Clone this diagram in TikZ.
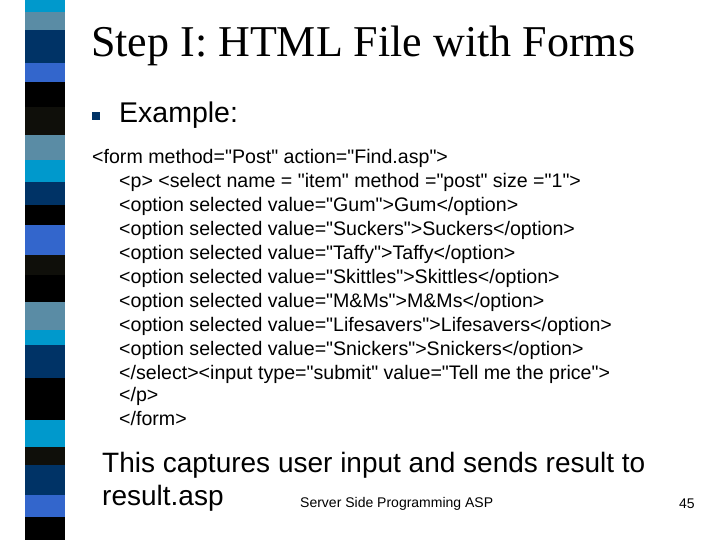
\documentclass[tikz,border=0pt]{standalone}
\usepackage{fontspec}
\setmainfont{Liberation Sans}[Ligatures=TeXOff]
\newfontfamily\serif{Liberation Serif}
\newcommand\Q{\symbol{34}}
\definecolor{cy}{RGB}{0,153,204}
\definecolor{gb}{RGB}{90,140,165}
\definecolor{nv}{RGB}{0,51,102}
\definecolor{rb}{RGB}{51,102,204}
\definecolor{bk}{RGB}{0,0,0}
\definecolor{nb}{RGB}{15,15,10}
\begin{document}
\begin{tikzpicture}[x=1pt,y=-1pt,
  code/.style={anchor=west,inner sep=0,font=\fontsize{19.6}{22}\selectfont}]
\useasboundingbox (0,0) rectangle (720,540);
\fill[white] (0,0) rectangle (720,540);
\foreach \a/\b/\c in {0/12/cy,12/30/gb,30/63/nv,63/82/rb,82/107/bk,107/135/nb,135/160/gb,160/182/cy,182/205/nv,205/225/bk,225/255/rb,255/275/nb,275/302/bk,302/330/gb,330/345/cy,345/378/nv,378/420/bk,420/447/cy,447/465/nb,465/495/nv,495/517/rb,517/540/bk}
  \fill[\c] (25,\a) rectangle (65,\b);
\node[anchor=west,inner sep=0,font=\serif\fontsize{44}{48}\selectfont] (title) at (91,46) {Step I: HTML File with Forms};
\node[fill=nv,minimum size=8,inner sep=0] (bul) at (96,116) {};
\node[anchor=west,inner sep=0,font=\fontsize{28.5}{32}\selectfont] (ex) at (119,115) {Example:};
\node[code] (l0) at (92,158) {<form method=\Q Post\Q{} action=\Q Find.asp\Q>};
\node[code] (l1) at (119,182) {<p> <select name = \Q item\Q{} method =\Q post\Q{} size =\Q 1\Q>};
\node[code] (l2) at (119,206) {<option selected value=\Q Gum\Q>Gum</option>};
\node[code] (l3) at (119,230) {<option selected value=\Q Suckers\Q>Suckers</option>};
\node[code] (l4) at (119,254) {<option selected value=\Q Taffy\Q>Taffy</option>};
\node[code] (l5) at (119,278) {<option selected value=\Q Skittles\Q>Skittles</option>};
\node[code] (l6) at (119,302) {<option selected value=\Q M\&Ms\Q>M\&Ms</option>};
\node[code] (l7) at (119,326) {<option selected value=\Q Lifesavers\Q>Lifesavers</option>};
\node[code] (l8) at (119,350) {<option selected value=\Q Snickers\Q>Snickers</option>};
\node[code] (l9) at (119,374) {</select><input type=\Q submit\Q{} value=\Q Tell me the price\Q>};
\node[code] (l10) at (119,396) {</p>};
\node[code] (l11) at (119,418) {</form>};
\node[anchor=west,inner sep=0,font=\fontsize{28}{32}\selectfont] (c1) at (102,465) {This captures user input and sends result to};
\node[anchor=west,inner sep=0,font=\fontsize{28}{32}\selectfont] (c2) at (102,498) {result.asp};
\node[anchor=west,inner sep=0,font=\fontsize{14}{16}\selectfont] (ft) at (300,504) {Server Side Programming ASP};
\node[anchor=west,inner sep=0,font=\fontsize{14}{16}\selectfont] (pg) at (679,504) {45};
\end{tikzpicture}
\end{document}
